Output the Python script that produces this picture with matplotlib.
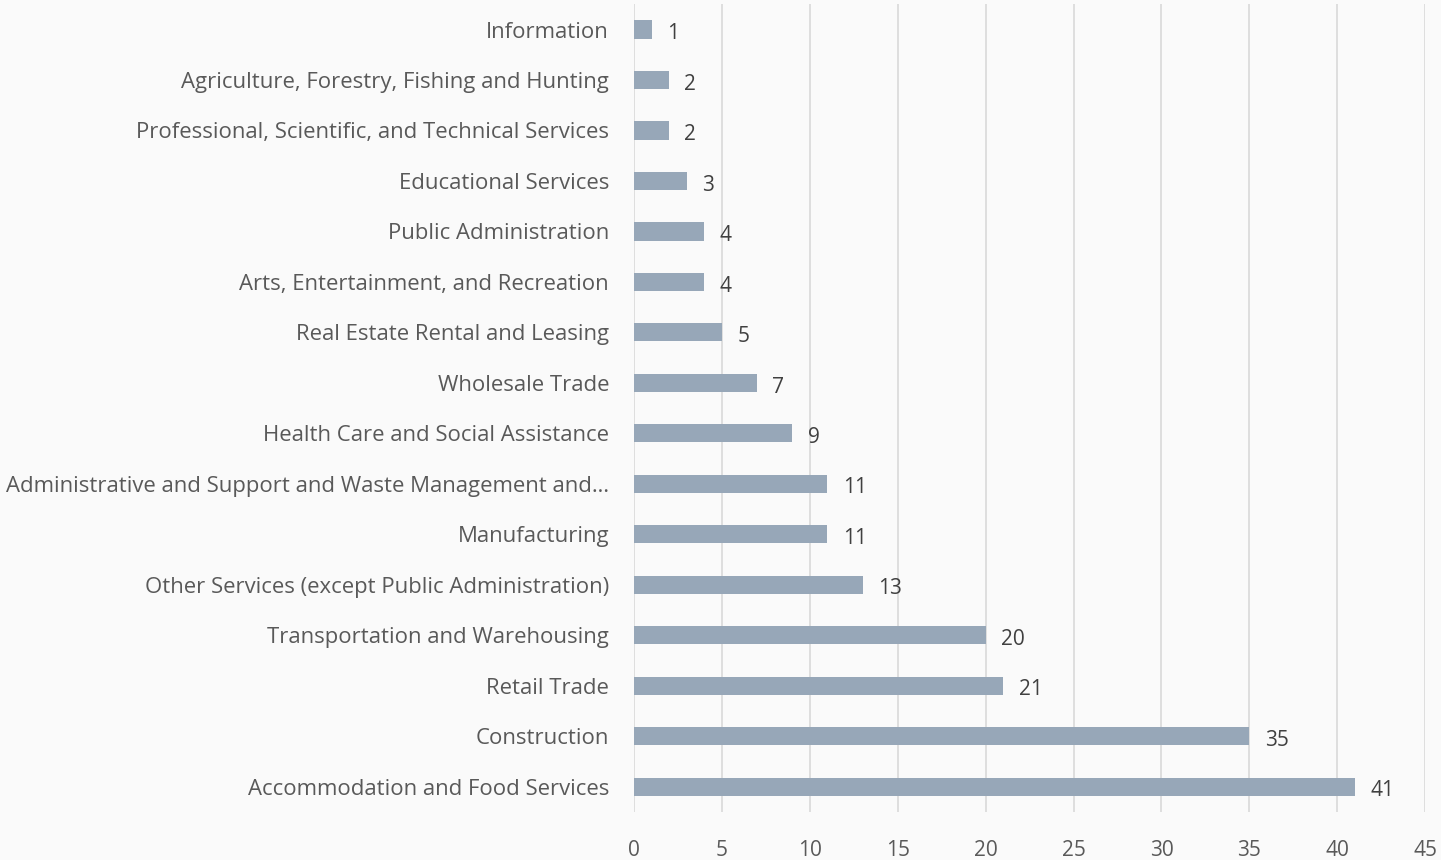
import matplotlib.pyplot as plt

# industry categories (top to bottom as in the chart)
industries = [
    'Information',
    'Agriculture, Forestry, Fishing and Hunting',
    'Professional, Scientific, and Technical Services',
    'Educational Services',
    'Public Administration',
    'Arts, Entertainment, and Recreation',
    'Real Estate Rental and Leasing',
    'Wholesale Trade',
    'Health Care and Social Assistance',
    'Administrative and Support and Waste Management and…',
    'Manufacturing',
    'Other Services (except Public Administration)',
    'Transportation and Warehousing',
    'Retail Trade',
    'Construction',
    'Accommodation and Food Services',
]
counts = [1, 2, 2, 3, 4, 4, 5, 7, 9, 11, 11, 13, 20, 21, 35, 41]
x_ticks = [0, 5, 10, 15, 20, 25, 30, 35, 40, 45]

plt.rcParams['font.family'] = ['Open Sans', 'DejaVu Sans']

bg = '#FAFAFA'
fig = plt.figure(figsize=(14.41, 8.6), dpi=100, facecolor=bg)
ax = fig.add_axes([0.44, 0.056, 0.549, 0.939])
ax.set_facecolor(bg)

pos = list(range(len(industries)))
ax.barh(pos, counts, height=0.36, color='#97A7B8', zorder=3)

for p, v in zip(pos, counts):
    ax.annotate(str(v), (v, p), xytext=(11, -3), textcoords='offset points',
                ha='left', va='center', fontsize=15, color='#404040')

ax.set_yticks(pos)
ax.set_yticklabels(industries, fontsize=15.9, color='#595959')
ax.set_ylim(len(industries) - 0.5, -0.5)

ax.set_xticks(x_ticks)
ax.set_xticklabels([str(t) for t in x_ticks], fontsize=15, color='#595959')
ax.set_xlim(0, 45)
ax.grid(axis='x', color='#D9D9D9', linewidth=1.2, zorder=0)
ax.tick_params(axis='both', length=0)
ax.tick_params(axis='y', pad=18)
ax.tick_params(axis='x', pad=20)
for s in ax.spines.values():
    s.set_visible(False)

fig.savefig('out.png', dpi=100, facecolor=bg)
